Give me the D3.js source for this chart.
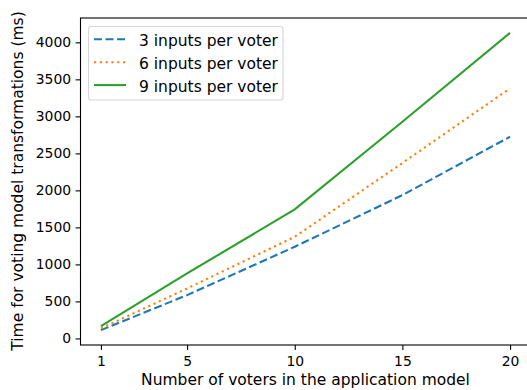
<!DOCTYPE html>
<html><head><meta charset="utf-8">
<script src="https://cdn.jsdelivr.net/npm/d3@7"></script>
<style>html,body{margin:0;padding:0;background:#fff;}svg{display:block;font-family:"DejaVu Sans",sans-serif;}</style>
</head><body><svg id="c" width="527" height="390"></svg>
<script>
const voters = [1, 5, 10, 15, 20];
const inputs3 = [112, 585, 1238, 1936, 2725];
const inputs6 = [135, 675, 1373, 2370, 3378];
const inputs9 = [166, 878, 1743, 2927, 4128];
const seriesNames = ["3 inputs per voter", "6 inputs per voter", "9 inputs per voter"];
const xTicks = [1, 5, 10, 15, 20];
const yTicks = [0, 500, 1000, 1500, 2000, 2500, 3000, 3500, 4000];

const series = [
  {name: seriesNames[0], values: inputs3, color: "#1f77b4", dash: "8,3.5", cap: "butt"},
  {name: seriesNames[1], values: inputs6, color: "#ff7f0e", dash: "2.2,3.6", cap: "butt"},
  {name: seriesNames[2], values: inputs9, color: "#2ca02c", dash: null, cap: "butt"}
];

const svg = d3.select("#c");
const L = 80.5, R = 530.5, T = 18, B = 345;
const xmin = d3.min(voters), xmax = d3.max(voters);
const xm = (xmax - xmin) * 0.05;
const all = [].concat(inputs3, inputs6, inputs9);
const ymin = d3.min(all), ymax = d3.max(all);
const ym = (ymax - ymin) * 0.05;
const x = d3.scaleLinear().domain([xmin - xm, xmax + xm]).range([L, R]);
const y = d3.scaleLinear().domain([ymin - ym, ymax + ym]).range([B, T]);

const line = d3.line().x((d, i) => x(voters[i])).y(d => y(d));
const g = svg.append("g");
series.forEach(s => {
  g.append("path").datum(s.values).attr("d", line)
    .attr("fill", "none").attr("stroke", s.color).attr("stroke-width", 2.1)
    .attr("stroke-dasharray", s.dash).attr("stroke-linecap", s.cap);
});

// axes
const xAxis = d3.axisBottom(x).tickValues(xTicks).tickSize(4.9).tickPadding(6).tickFormat(d3.format("d"));
const yAxis = d3.axisLeft(y).tickValues(yTicks).tickSize(4.9).tickPadding(4.5).tickFormat(d3.format("d"));
const gx = svg.append("g").attr("transform", `translate(0,${B})`).call(xAxis);
const gy = svg.append("g").attr("transform", `translate(${L},0)`).call(yAxis);
[gx, gy].forEach(a => {
  a.select(".domain").remove();
  a.selectAll("line").attr("stroke", "#000").attr("stroke-width", 1.1);
  a.selectAll("text").attr("font-size", 13.9).attr("fill", "#000").attr("font-family", "DejaVu Sans");
});

// spines
svg.append("rect").attr("x", L).attr("y", T).attr("width", R - L).attr("height", B - T)
  .attr("fill", "none").attr("stroke", "#000").attr("stroke-width", 1.1);

// labels
svg.append("text").attr("x", (L + R) / 2).attr("y", 385).attr("text-anchor", "middle")
  .attr("font-size", 15.5).text("Number of voters in the application model");
svg.append("text").attr("transform", `translate(23.3,181) rotate(-90)`).attr("text-anchor", "middle")
  .attr("font-size", 15.5).text("Time for voting model transformations (ms)");

// legend
const lg = svg.append("g");
lg.append("rect").attr("x", 88.5).attr("y", 26.5).attr("width", 194.5).attr("height", 73.5).attr("rx", 2.8)
  .attr("fill", "#fff").attr("fill-opacity", 0.8).attr("stroke", "#d6d6d6").attr("stroke-width", 1.1);
series.forEach((s, i) => {
  const yy = 39.3 + i * 22.9;
  lg.append("line").attr("x1", 94).attr("x2", 126).attr("y1", yy).attr("y2", yy)
    .attr("stroke", s.color).attr("stroke-width", 2.1).attr("stroke-dasharray", s.dash);
  lg.append("text").attr("x", 139).attr("y", yy + 6.4).attr("font-size", 15.5).text(s.name);
});
</script></body></html>
